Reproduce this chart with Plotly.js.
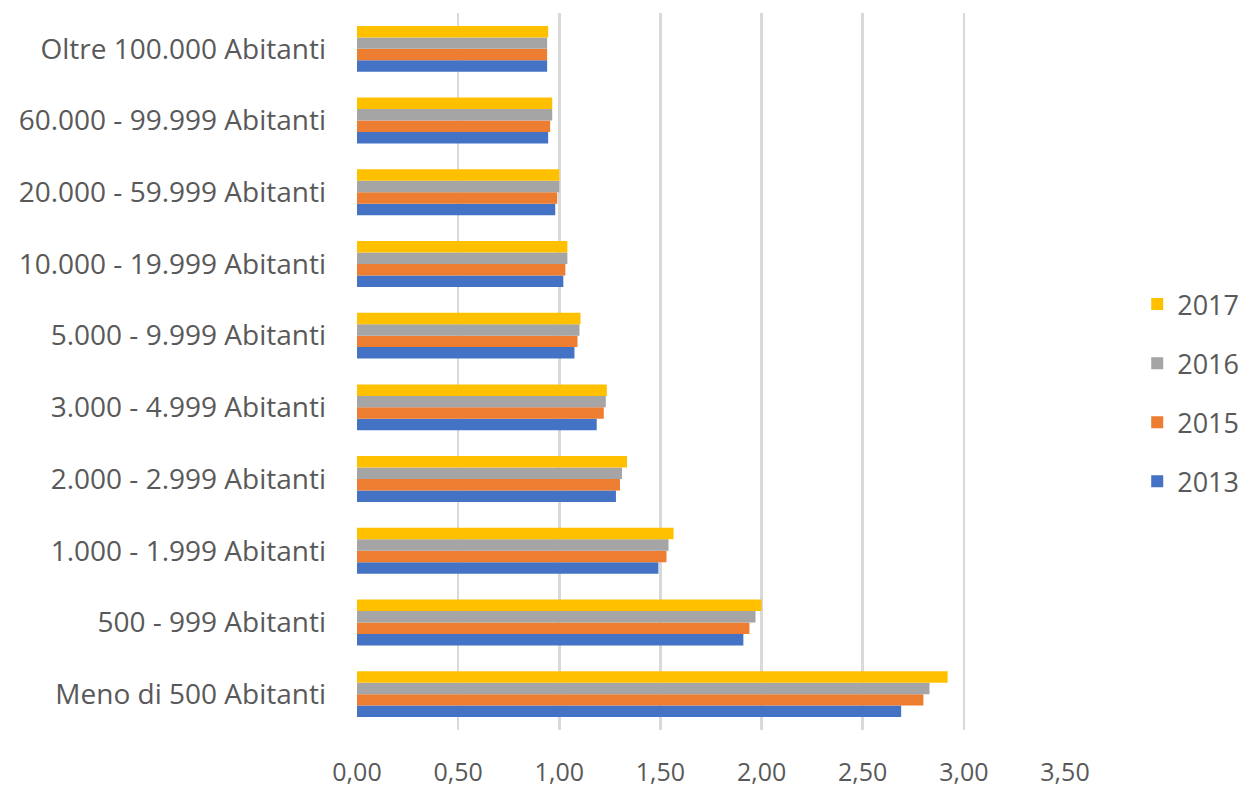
<!DOCTYPE html>
<html>
<head>
<meta charset="utf-8">
<script src="https://cdn.plot.ly/plotly-3.0.1.min.js"></script>
<style>html,body{margin:0;padding:0;background:#fff;}#chart{width:1243px;height:788px;}</style>
</head>
<body>
<div id="chart"></div>
<script>
const categories = [
  "Meno di 500 Abitanti",
  "500 - 999 Abitanti",
  "1.000 - 1.999 Abitanti",
  "2.000 - 2.999 Abitanti",
  "3.000 - 4.999 Abitanti",
  "5.000 - 9.999 Abitanti",
  "10.000 - 19.999 Abitanti",
  "20.000 - 59.999 Abitanti",
  "60.000 - 99.999 Abitanti",
  "Oltre 100.000 Abitanti"
];
const seriesNames = ["2013", "2015", "2016", "2017"];
const values2013 = [2.69, 1.91, 1.49, 1.28, 1.185, 1.075, 1.02, 0.98, 0.945, 0.94];
const values2015 = [2.80, 1.94, 1.53, 1.30, 1.22, 1.09, 1.03, 0.99, 0.955, 0.94];
const values2016 = [2.83, 1.97, 1.54, 1.31, 1.23, 1.10, 1.04, 1.00, 0.965, 0.94];
const values2017 = [2.92, 2.00, 1.565, 1.335, 1.235, 1.105, 1.04, 1.00, 0.965, 0.945];
const xTicks = [0, 0.5, 1, 1.5, 2, 2.5, 3, 3.5];

const colors = ["#4472C4", "#ED7D31", "#A5A5A5", "#FFC000"];
const allValues = [values2013, values2015, values2016, values2017];

const traces = allValues.map((vals, i) => ({
  type: "bar",
  orientation: "h",
  name: seriesNames[i],
  legendgroup: "g" + i,
  legendrank: 100 - i,
  x: vals,
  y: categories,
  marker: { color: colors[i], line: { width: 0 } },
  hoverinfo: "x+name"
}));

const layout = {
  width: 1243,
  height: 788,
  margin: { l: 357, r: 178, t: 13, b: 58, autoexpand: false },
  paper_bgcolor: "#ffffff",
  plot_bgcolor: "#ffffff",
  barmode: "group",
  bargap: 0.36,
  bargroupgap: 0,
  separators: ",.",
  font: { family: "Open Sans, sans-serif", color: "#595959", size: 24 },
  xaxis: {
    range: [0, 3.5],
    tickvals: xTicks,
    tickformat: ".2f",
    showgrid: true,
    gridcolor: "#d9d9d9",
    gridwidth: 2.5,
    zeroline: false,
    showline: false,
    ticks: "",
    ticklabelstandoff: 25,
    tickfont: { size: 25, color: "#595959" },
    fixedrange: true
  },
  yaxis: {
    type: "category",
    categoryorder: "array",
    categoryarray: categories,
    showgrid: false,
    zeroline: false,
    showline: false,
    ticks: "",
    ticklabelstandoff: 30,
    tickfont: { size: 28, color: "#595959" },
    fixedrange: true
  },
  showlegend: true,
  legend: {
    x: 1.102,
    xanchor: "left",
    y: 0.47,
    yanchor: "middle",
    traceorder: "grouped",
    tracegroupgap: 21,
    font: { size: 27, color: "#595959" },
    itemwidth: 30,
    bgcolor: "rgba(0,0,0,0)"
  }
};

Plotly.newPlot("chart", traces, layout, { displayModeBar: false, staticPlot: true });
</script>
</body>
</html>
